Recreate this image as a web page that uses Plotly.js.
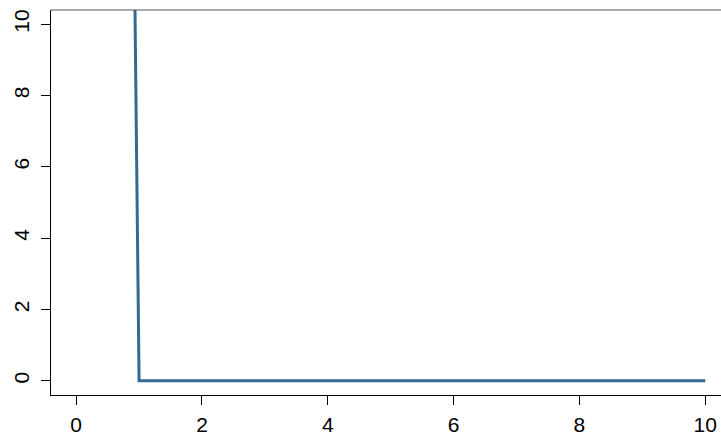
<!DOCTYPE html>
<html>
<head>
<meta charset="utf-8">
<script src="https://cdn.plot.ly/plotly-3.0.1.min.js"></script>
<style>html,body{margin:0;padding:0;overflow:hidden;background:#fff}</style>
</head>
<body>
<div id="chart" style="width:721px;height:438px"></div>
<script>
const xValues = [0, 1, 2, 3, 4, 5, 6, 7, 8, 9, 10];
const yValues = [160, 0, 0, 0, 0, 0, 0, 0, 0, 0, 0];
const xTicks = [0, 2, 4, 6, 8, 10];
const yTicks = [0, 2, 4, 6, 8, 10];

const trace = {
  x: xValues, y: yValues, type: 'scatter', mode: 'lines',
  line: {color: '#336a91', width: 3},
  cliponaxis: true, hoverinfo: 'skip'
};

const font = {family: 'Liberation Sans, Arial, sans-serif', size: 21, color: '#000'};
const layout = {
  width: 721, height: 438,
  margin: {l: 51, r: 0, t: 10, b: 43, pad: 0},
  paper_bgcolor: '#fff', plot_bgcolor: '#fff',
  showlegend: false,
  font: font,
  xaxis: {
    range: [-0.4, 10.25], tickvals: xTicks, ticktext: xTicks.map(String),
    showgrid: false, zeroline: false, showline: true, linecolor: '#000', linewidth: 1,
    ticks: 'outside', ticklen: 9, tickcolor: '#000', tickwidth: 1, tickfont: font,
    ticklabelstandoff: 2
  },
  yaxis: {
    range: [-0.4, 10.4], tickvals: yTicks, ticktext: yTicks.map(String),
    showgrid: false, zeroline: false, showline: true, linecolor: '#000', linewidth: 1,
    ticks: 'outside', ticklen: 9, tickcolor: '#000', tickwidth: 1, tickangle: -90, tickfont: font,
    ticklabelstandoff: 4
  },
  shapes: [
    {type: 'line', xref: 'paper', yref: 'paper', x0: 0, x1: 1, y0: 1, y1: 1,
     line: {color: '#555', width: 1}}
  ]
};
Plotly.newPlot('chart', [trace], layout, {staticPlot: true, displayModeBar: false});
</script>
</body>
</html>
